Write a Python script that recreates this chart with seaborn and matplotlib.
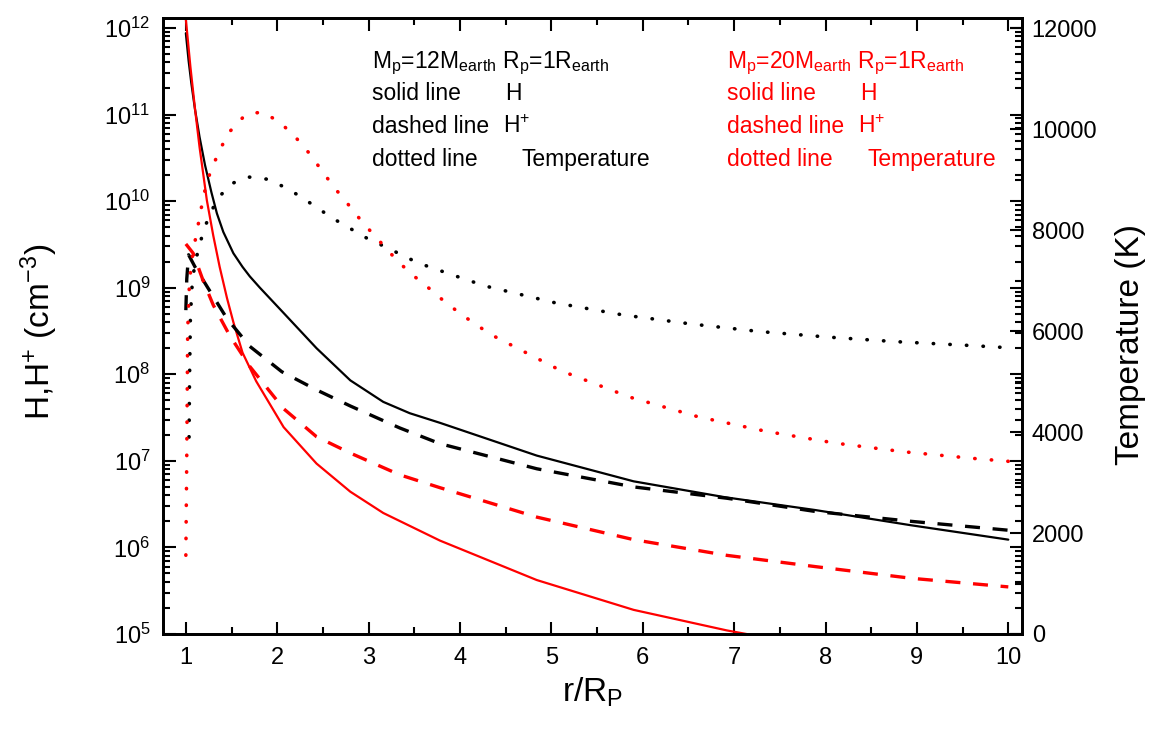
import matplotlib
matplotlib.use("Agg")
import matplotlib.pyplot as plt
import seaborn as sns
from matplotlib.ticker import LogLocator, MultipleLocator, NullFormatter, LogFormatterMathtext

# ---------------- data ----------------
# r/R_P positions and number densities (cm^-3)
x_h12 = [1.00, 1.03, 1.06, 1.10, 1.15, 1.21, 1.28, 1.34, 1.41, 1.52, 1.62, 1.70, 1.81, 2.07, 2.43, 2.80, 3.16,
         3.45, 3.78, 4.84, 5.90, 6.90, 7.89, 8.94, 10.0]
h12 = [8.7e11, 4.2e11, 2.3e11, 1.15e11, 5.5e10, 2.6e10, 1.26e10, 7.2e9, 4.4e9, 2.5e9, 1.74e9, 1.35e9, 1.0e9,
       5.1e8, 2.0e8, 8.5e7, 4.8e7, 3.55e7, 2.75e7, 1.15e7, 5.8e6, 3.8e6, 2.7e6, 1.8e6, 1.23e6]

x_h20 = [1.00, 1.05, 1.10, 1.15, 1.23, 1.30, 1.37, 1.45, 1.52, 1.62, 1.77, 2.07, 2.43, 2.80, 3.16, 3.78,
         4.84, 5.90, 6.92, 7.25]
h20 = [1.26e12, 3.55e11, 1.17e11, 4.2e10, 1.02e10, 4.0e9, 1.74e9, 7.6e8, 4.0e8, 1.78e8, 8.3e7, 2.45e7, 9.3e6,
       4.4e6, 2.5e6, 1.2e6, 4.2e5, 1.9e5, 1.1e5, 9.5e4]

x_hp12 = [1.00, 1.01, 1.03, 1.10, 1.24, 1.45, 1.70, 2.05, 2.43, 2.80, 3.34, 3.78, 4.84, 5.90, 6.92, 7.89, 8.94, 10.0]
hp12 = [5.5e8, 1.26e9, 2.4e9, 1.74e9, 1.0e9, 4.4e8, 2.1e8, 1.07e8, 6.6e7, 4.3e7, 2.4e7, 1.58e7, 8.1e6, 5.0e6,
        3.7e6, 2.6e6, 2.0e6, 1.58e6]

x_hp20 = [1.00, 1.08, 1.19, 1.30, 1.48, 1.70, 2.07, 2.43, 2.80, 3.34, 3.78, 4.84, 5.90, 6.92, 7.89, 8.94, 10.0]
hp20 = [3.2e9, 2.5e9, 1.2e9, 6.3e8, 2.8e8, 1.23e8, 4.0e7, 1.9e7, 1.23e7, 6.9e6, 4.9e6, 2.24e6, 1.23e6, 8.1e5,
        6.0e5, 4.4e5, 3.5e5]

# temperatures (K)
x_t12 = [1.035, 1.04, 1.05, 1.07, 1.10, 1.19, 1.26, 1.35, 1.50, 1.69, 1.88, 2.07, 2.25, 2.43, 2.61, 2.80, 2.98, 3.18,
         3.54, 3.92, 4.28, 5.04, 5.78, 6.53, 7.28, 8.03, 8.77, 9.52, 10.0]
t12 = [3900, 5000, 6300, 6950, 7350, 7970, 8300, 8630, 8920, 9050, 9010, 8860, 8670, 8450, 8230, 8030, 7840, 7670,
       7350, 7110, 6890, 6560, 6320, 6140, 5990, 5880, 5790, 5720, 5670]

x_t20 = [1.00, 1.01, 1.02, 1.04, 1.08, 1.12, 1.15, 1.19, 1.23, 1.30, 1.38, 1.48, 1.65, 1.83, 2.02, 2.20, 2.36, 2.49,
         2.63, 2.78, 2.93, 3.09, 3.26, 3.44, 3.64, 3.82, 4.00, 4.18, 4.36, 5.11, 5.86, 6.61, 7.36, 8.11, 8.85, 9.60, 10.0]
t20 = [1560, 3500, 6000, 7000, 7600, 7950, 8260, 8630, 8960, 9290, 9620, 9950, 10280, 10340, 10150, 9840, 9500, 9170,
       8830, 8500, 8160, 7840, 7500, 7170, 6880, 6600, 6350, 6120, 5910, 5210, 4690, 4300, 4010, 3780, 3610, 3480, 3420]

x_ticks = [1, 2, 3, 4, 5, 6, 7, 8, 9, 10]
t_ticks = [0, 2000, 4000, 6000, 8000, 10000, 12000]

RED = "#ff0000"
BLK = "#000000"

# ---------------- style ----------------
sns.set_style("ticks")
plt.rcParams['font.family'] = ['Liberation Sans', 'DejaVu Sans']
plt.rcParams['mathtext.fontset'] = 'custom'
plt.rcParams['mathtext.rm'] = 'Liberation Sans'
plt.rcParams['mathtext.it'] = 'Liberation Sans:italic'
plt.rcParams['mathtext.bf'] = 'Liberation Sans:bold'
plt.rcParams['mathtext.default'] = 'regular'

W, H = 1159, 744
fig = plt.figure(figsize=(W / 100, H / 100), dpi=100)
ax = fig.add_axes([163 / W, 1 - 634 / H, (1022 - 163) / W, (634 - 18) / H])
ax2 = ax.twinx()

solid = dict(linewidth=1.6, linestyle='-')
dashed = dict(linewidth=2.4, linestyle=(0, (4.5, 3.8)))
dotted = dict(linewidth=2.6, linestyle=(0, (0.1, 4.5)), dash_capstyle='round')

sns.lineplot(x=x_h12, y=h12, ax=ax, color=BLK, **solid)
sns.lineplot(x=x_h20, y=h20, ax=ax, color=RED, **solid)
sns.lineplot(x=x_hp12, y=hp12, ax=ax, color=BLK, **dashed)
sns.lineplot(x=x_hp20, y=hp20, ax=ax, color=RED, **dashed)
sns.lineplot(x=x_t12, y=t12, ax=ax2, color=BLK, **dotted)
sns.lineplot(x=x_t20, y=t20, ax=ax2, color=RED, **dotted)

# ---------------- axes ----------------
ax.set_yscale('log')
ax.set_xlim(0.75, 10.15)
ax.set_ylim(1e5, 10 ** 12.115)
ax2.set_ylim(0, 12200)

ax.set_xticks(x_ticks)
ax.xaxis.set_minor_locator(MultipleLocator(0.5))
ax.yaxis.set_major_locator(LogLocator(base=10, numticks=20))
ax.yaxis.set_minor_locator(LogLocator(base=10, subs=range(2, 10), numticks=100))
ax.yaxis.set_minor_formatter(NullFormatter())
ax.yaxis.set_major_formatter(LogFormatterMathtext())
ax2.set_yticks(t_ticks)
ax2.yaxis.set_minor_locator(MultipleLocator(1000))

for a in (ax, ax2):
    for s in a.spines.values():
        s.set_color(BLK)
        s.set_linewidth(2.0)
        s.set_visible(True)

ax.tick_params(which='both', direction='in', top=True, right=True, labelright=False,
               color=BLK, width=1.5, labelcolor=BLK)
ax.tick_params(which='major', length=9)
ax.tick_params(which='minor', length=5)
ax.tick_params(axis='x', which='major', labelsize=17, pad=9)
ax.tick_params(axis='y', which='major', labelsize=17, pad=9)
ax2.tick_params(which='both', direction='in', color=BLK, width=1.5, labelcolor=BLK)
ax2.tick_params(which='major', length=9, labelsize=17, pad=7)
ax2.tick_params(which='minor', length=5)

ax.set_xlabel(r'r/R$_{P}$', fontsize=24, color=BLK)
ax.xaxis.set_label_coords(0.5, -0.068)
ax.set_ylabel(r'H,H$^{+}$ (cm$^{-3}$)', fontsize=24, color=BLK)
ax.yaxis.set_label_coords(-0.12, 0.49)
ax2.set_ylabel('Temperature (K)', fontsize=24, color=BLK)
ax2.yaxis.set_label_coords(1.108, 0.47)

# ---------------- annotations ----------------
def ftxt(px, py, s, color):
    fig.text(px / W, 1 - py / H, s, color=color, fontsize=16.5, ha='left', va='baseline')

rows = [68, 100, 133, 166]
ftxt(372, rows[0], r'M$_{p}$=12M$_{earth}$ R$_{p}$=1R$_{earth}$', BLK)
ftxt(372, rows[1], 'solid line', BLK)
ftxt(505, rows[1], 'H', BLK)
ftxt(372, rows[2], 'dashed line', BLK)
ftxt(503, rows[2], r'H$^{+}$', BLK)
ftxt(372, rows[3], 'dotted line', BLK)
ftxt(521, rows[3], 'Temperature', BLK)

ftxt(727, rows[0], r'M$_{p}$=20M$_{earth}$ R$_{p}$=1R$_{earth}$', RED)
ftxt(727, rows[1], 'solid line', RED)
ftxt(860, rows[1], 'H', RED)
ftxt(727, rows[2], 'dashed line', RED)
ftxt(858, rows[2], r'H$^{+}$', RED)
ftxt(727, rows[3], 'dotted line', RED)
ftxt(867, rows[3], 'Temperature', RED)

fig.savefig('out.png', dpi=100)
